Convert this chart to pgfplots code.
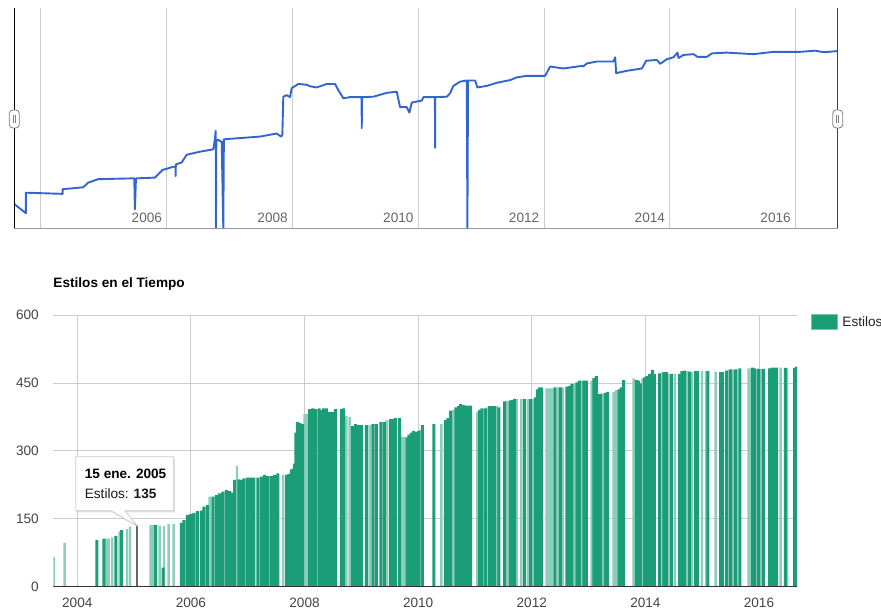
\documentclass[border=0pt]{standalone}
\usepackage{fontspec}
\setmainfont{Liberation Sans}
\usepackage{pgfplots}
\usepackage{pgfplotstable}
\pgfplotsset{compat=1.18}
\definecolor{estilos}{HTML}{1B9E77}
\definecolor{estilosL}{HTML}{8DCEBB}
\definecolor{gridc}{HTML}{CCCCCC}
\definecolor{linec}{HTML}{3366CC}
\definecolor{ticktext}{HTML}{444444}
\definecolor{toptext}{HTML}{666666}
\definecolor{basec}{HTML}{333333}
\newcommand\chartfont{\fontsize{13.6}{16}\selectfont}

\pgfplotstableread{
year v
2003.575 88
2003.761 64
2003.762 117
2004.345 114
2004.346 126
2004.673 131
2004.753 143
2004.912 152
2005.459 154
2005.485 154
2005.495 74
2005.512 154
2005.814 156
2005.936 176
2006.025 180
2006.105 184
2006.140 184
2006.143 160
2006.146 190
2006.239 195
2006.318 215
2006.530 223
2006.741 229
2006.765 253
2006.780 277
2006.784 24.5
2006.790 253
2006.821 253
2006.875 249
2006.901 24.5
2006.910 255
2007.485 262
2007.750 270
2007.819 262
2007.840 266
2007.855 365
2007.909 369
2007.962 364
2007.989 387
2008.094 398
2008.228 396
2008.280 392
2008.387 389
2008.546 398
2008.678 398
2008.730 382
2008.810 361
2008.916 364
2009.100 364
2009.103 284
2009.106 364
2009.287 365
2009.500 375
2009.659 378
2009.712 338
2009.819 338
2009.860 324
2009.898 350
2010.057 355
2010.083 364
2010.266 364
2010.269 233
2010.272 364
2010.455 365
2010.508 374
2010.560 393
2010.667 404
2010.773 407
2010.783 24.5
2010.793 407
2010.905 407
2010.942 389
2011.091 393
2011.251 401
2011.462 408
2011.569 415
2011.728 419
2012.019 419
2012.099 443
2012.310 438
2012.576 444
2012.629 444
2012.683 451
2012.842 456
2013.106 456
2013.133 467
2013.149 426
2013.319 432
2013.558 438
2013.626 458
2013.796 460
2013.849 450
2013.955 462
2014.061 467
2014.124 479
2014.141 465
2014.220 473
2014.379 475
2014.442 468
2014.592 468
2014.671 477
2014.910 479
2015.333 475
2015.652 481
2016.076 481
2016.315 484
2016.447 480
2016.672 483
}\topline

\pgfplotstableread{
year v
2003.585 66
2003.778 97
2004.510 106
2004.553 106
2004.616 109
2004.746 122
2004.875 127
2004.928 133
2005.292 136
2005.333 136
2005.450 135
2005.526 134
2005.609 138
2005.697 138
2006.330 199
2006.811 267
2007.621 247
2008.002 381
2008.043 381
2008.736 377
2008.794 375
2009.147 357
2009.451 368
2009.716 331
2009.763 331
2010.038 346
2010.408 359
2010.619 390
2011.042 386
2011.218 396
2011.382 399
2011.570 411
2011.734 415
2011.816 414
2011.933 414
2012.027 414
2012.262 438
2012.309 438
2012.356 438
2012.456 440
2012.544 440
2012.749 448
2012.878 455
2013.054 455
2013.254 427
2013.441 431
2013.488 434
2013.794 460
2013.946 460
2014.286 473
2014.415 470
2014.521 470
2014.738 476
2014.820 474
2014.996 476
2015.067 476
2015.237 475
2015.466 479
2015.536 480
2015.618 480
2015.818 482
2015.853 482
2015.959 481
2016.041 481
2016.381 484
2016.498 482
}\lightbars

\pgfplotstableread{
year v
2004.347 103
2004.470 106
2004.681 112
2004.782 125
2005.380 136
2005.510 42
2005.831 141
2005.878 147
2005.937 158
2005.996 160
2006.054 163
2006.113 167
2006.183 168
2006.230 177
2006.289 180
2006.389 199
2006.447 202
2006.506 206
2006.565 210
2006.623 213
2006.682 211
2006.723 208
2006.770 236
2006.846 237
2006.887 236
2006.934 239
2006.993 241
2007.052 241
2007.110 241
2007.181 241
2007.239 243
2007.298 247
2007.357 244
2007.415 244
2007.474 247
2007.533 250
2007.679 247
2007.726 249
2007.767 259
2007.803 261
2007.826 272
2007.850 340
2007.873 364
2007.920 362
2007.967 359
2008.090 392
2008.149 394
2008.196 392
2008.255 394
2008.296 390
2008.337 394
2008.384 394
2008.431 386
2008.489 386
2008.548 392
2008.648 392
2008.689 394
2008.841 355
2008.900 359
2008.947 357
2009.000 357
2009.088 357
2009.205 359
2009.264 359
2009.346 364
2009.404 364
2009.510 370
2009.557 370
2009.598 372
2009.674 372
2009.804 330
2009.839 336
2009.880 340
2009.921 344
2009.968 342
2010.009 344
2010.073 357
2010.279 359
2010.478 368
2010.525 372
2010.572 389
2010.666 396
2010.713 399
2010.748 403
2010.795 401
2010.830 400
2010.877 400
2010.924 400
2011.083 390
2011.124 394
2011.182 394
2011.259 399
2011.306 399
2011.347 399
2011.423 396
2011.523 409
2011.617 411
2011.652 412
2011.699 415
2011.875 414
2011.981 414
2012.062 418
2012.098 436
2012.133 440
2012.168 440
2012.409 440
2012.503 440
2012.620 442
2012.667 443
2012.708 448
2012.796 451
2012.837 455
2012.919 455
2012.960 455
2013.095 461
2013.136 465
2013.171 426
2013.213 426
2013.295 428
2013.336 430
2013.535 436
2013.571 440
2013.618 456
2013.841 456
2013.876 455
2013.911 449
2013.987 462
2014.028 465
2014.075 470
2014.122 479
2014.157 470
2014.245 471
2014.327 474
2014.368 474
2014.462 470
2014.603 470
2014.644 476
2014.691 477
2014.779 475
2014.885 476
2014.914 476
2015.102 476
2015.325 474
2015.360 474
2015.431 477
2015.501 480
2015.583 480
2015.665 482
2015.888 484
2015.924 482
2015.994 481
2016.076 481
2016.188 482
2016.229 484
2016.276 484
2016.311 484
2016.463 483
2016.628 483
2016.657 486
}\darkbars

\pgfplotstableread{
year v
2005.05 135
}\hoverbar

\begin{document}
\begin{tikzpicture}[font=\chartfont]
\useasboundingbox (0,0) rectangle (881pt,613pt);
% ---------- range selector (top) ----------
\begin{axis}[
  at={(14.3pt,384.5pt)}, anchor=south west,
  width=823.4pt, height=220.5pt, scale only axis,
  xmin=2003.577, xmax=2016.672, ymin=24.5, ymax=594.3,
  axis line style={draw=none}, tick style={draw=none},
  xtick={2004,2006,2008,2010,2012,2014,2016},
  xticklabels={,,,,,,}, ytick=\empty,
  xmajorgrids, major grid style={draw=gridc, line width=0.8pt},
  clip=false,
]
\addplot[linec, line width=1.9pt, line join=round, mark=none] table[x=year,y=v] {\topline};
\draw[gray!80, line width=0.9pt] (axis cs:2003.577,24.5) -- (axis cs:2016.672,24.5);
\draw[black, line width=1.3pt] (axis cs:2003.577,24.5) -- (axis cs:2003.577,594.3);
\draw[darkgray, line width=1.1pt] (axis cs:2016.672,24.5) -- (axis cs:2016.672,594.3);
\draw[fill=white, draw=gray, rounded corners=3.5pt, line width=0.8pt] (axis cs:2003.4975,284.24) rectangle (axis cs:2003.6565,330.76);
\draw[gray, line width=0.8pt] (axis cs:2003.5595,297.16) -- (axis cs:2003.5595,317.84);
\draw[gray, line width=0.8pt] (axis cs:2003.5945,297.16) -- (axis cs:2003.5945,317.84);
\draw[fill=white, draw=gray, rounded corners=3.5pt, line width=0.8pt] (axis cs:2016.5925,284.24) rectangle (axis cs:2016.7515,330.76);
\draw[gray, line width=0.8pt] (axis cs:2016.6545,297.16) -- (axis cs:2016.6545,317.84);
\draw[gray, line width=0.8pt] (axis cs:2016.6895,297.16) -- (axis cs:2016.6895,317.84);
\node[anchor=base east, text=toptext, inner sep=0pt, font=\chartfont] at (axis cs:2005.9284,39.5) {2006};
\node[anchor=base east, text=toptext, inner sep=0pt, font=\chartfont] at (axis cs:2007.9284,39.5) {2008};
\node[anchor=base east, text=toptext, inner sep=0pt, font=\chartfont] at (axis cs:2009.9284,39.5) {2010};
\node[anchor=base east, text=toptext, inner sep=0pt, font=\chartfont] at (axis cs:2011.9284,39.5) {2012};
\node[anchor=base east, text=toptext, inner sep=0pt, font=\chartfont] at (axis cs:2013.9284,39.5) {2014};
\node[anchor=base east, text=toptext, inner sep=0pt, font=\chartfont] at (axis cs:2015.9284,39.5) {2016};
\end{axis}
% ---------- main chart (bottom) ----------
\begin{axis}[
  at={(53.3pt,26.3pt)}, anchor=south west,
  width=743.7pt, height=271.7pt, scale only axis,
  xmin=2003.578, xmax=2016.669, ymin=0, ymax=600,
  axis line style={draw=none}, tick style={draw=none},
  xtick={2004,2006,2008,2010,2012,2014,2016},
  xticklabels={2004,2006,2008,2010,2012,2014,2016},
  ytick={0,150,300,450,600},
  xmajorgrids, ymajorgrids, major grid style={draw=gridc, line width=0.8pt},
  /pgf/number format/assume math mode=true,
  tick label style={font=\chartfont, text=ticktext},
  yticklabel style={anchor=east, inner sep=0pt, xshift=-14.3pt},
  xticklabel style={anchor=north, inner sep=0pt, yshift=-11.3pt},
  title={Estilos en el Tiempo},
  title style={at={(axis description cs:0,1)}, anchor=base west, yshift=22pt, inner sep=0pt, font=\bfseries\chartfont},
  legend style={at={(axis description cs:1.0184,1.0037)}, anchor=north west, draw=none, fill=none, inner sep=0pt, outer sep=0pt, font=\chartfont, text=black!87, nodes={inner sep=0pt}, /tikz/every odd column/.append style={column sep=5pt}},
  legend cell align=left,
]
\addplot[ybar, bar width=2.4pt, bar shift=0pt, fill=estilosL, draw=none, forget plot] table[x=year,y=v] {\lightbars};
\addplot[ybar, bar width=3.0pt, bar shift=0pt, fill=estilos, draw=none,
  legend image code/.code={\draw[fill=estilos, draw=estilos!60!white, line width=0.8pt] (0pt,-7.6pt) rectangle (26pt,7.6pt);}] table[x=year,y=v] {\darkbars};
\addlegendentry{Estilos}
\addplot[ybar, bar width=1.8pt, bar shift=0pt, fill=estilos!55!black, draw=gray!80!black, line width=0.7pt, forget plot] table[x=year,y=v] {\hoverbar};
\draw[basec, line width=1pt] (axis cs:2003.578,0) -- (axis cs:2016.669,0);
% tooltip
\fill[black, opacity=0.12] (axis cs:2003.993,283.6) -- (axis cs:2005.718,283.6) -- (axis cs:2005.718,164.3) -- (axis cs:2004.861,164.3) -- (axis cs:2005.077,130.5) -- (axis cs:2004.614,164.3) -- (axis cs:2003.993,164.3) -- cycle;
\draw[fill=white, draw=gridc, line width=0.8pt] (axis cs:2003.972,287.1) -- (axis cs:2005.697,287.1) -- (axis cs:2005.697,167.8) -- (axis cs:2004.840,167.8) -- (axis cs:2005.056,134) -- (axis cs:2004.593,167.8) -- (axis cs:2003.972,167.8) -- cycle;
\node[anchor=base west, inner sep=0pt, font=\bfseries\chartfont, text=black] at (axis cs:2004.130,240.0) {15 ene. 2005};
\node[anchor=base west, inner sep=0pt, font=\chartfont, text=black!90] at (axis cs:2004.130,193.7) {Estilos: \textbf{135}};
\end{axis}
\end{tikzpicture}
\end{document}
